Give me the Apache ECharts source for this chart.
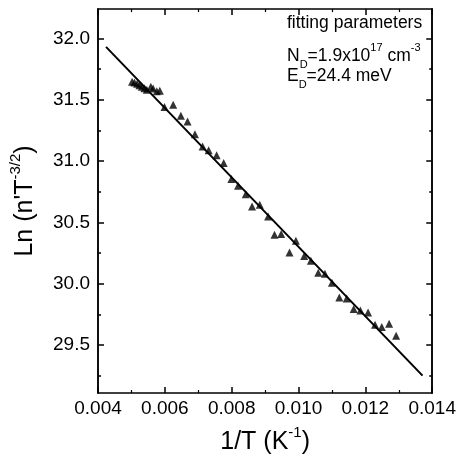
<!DOCTYPE html>
<html>
<head>
<meta charset="utf-8">
<script src="https://cdn.jsdelivr.net/npm/echarts@6/dist/echarts.min.js"></script>
<style>html,body{margin:0;padding:0;background:#fff;}#c{width:459px;height:464px;}</style>
</head>
<body>
<div id="c"></div>
<script>
// Measured data: x = 1/T (K^-1), y = Ln(n'T^-3/2)
const dataX = [0.00502,0.00509,0.00517,0.00524,0.00531,0.00539,0.00546,0.00558,0.00565,0.00576,0.00585,
  0.00599,0.00625,0.00648,0.00668,0.00690,0.00713,0.00731,0.00755,0.00776,0.00799,0.00819,0.00842,
  0.00861,0.00884,0.00909,0.00928,0.00948,0.00973,0.00992,0.01017,0.01037,0.01059,0.01079,0.01100,
  0.01122,0.01144,0.01165,0.01185,0.01208,0.01229,0.01249,0.01271,0.01292];
const dataY = [31.648,31.640,31.631,31.619,31.607,31.595,31.582,31.607,31.591,31.570,31.574,
  31.441,31.460,31.370,31.324,31.219,31.120,31.089,31.048,30.985,30.854,30.799,30.730,
  30.630,30.644,30.549,30.400,30.405,30.255,30.351,30.226,30.188,30.090,30.082,30.008,
  29.888,29.880,29.794,29.782,29.766,29.666,29.647,29.674,29.576];
// Fitted line endpoints
const fitX = [0.00424, 0.01371];
const fitY = [31.931, 29.252];
// Axis ticks
const yMajor = [29.5, 30.0, 30.5, 31.0, 31.5, 32.0];
const yMinor = [29.25, 29.75, 30.25, 30.75, 31.25, 31.75];
const xMin = 0.004, xMax = 0.014, xStep = 0.002;
const yMin = 29.11, yMax = 32.24;

const FONT = '"Liberation Sans", Arial, Helvetica, sans-serif';
const chart = echarts.init(document.getElementById('c'), null, {renderer: 'canvas'});
const lineStyle = {color: '#000', width: 1.5};
const grid = {left: 95, top: 9, width: 338, height: 384};

function xAxisDef(pos, labels) {
  return {
    type: 'value', position: pos, min: xMin, max: xMax, interval: xStep,
    axisLine: {show: true, onZero: false, lineStyle},
    axisTick: {show: true, inside: true, length: 6, lineStyle},
    minorTick: {show: true, splitNumber: 2, length: 3, lineStyle: {color: '#000', width: 1.2}},
    splitLine: {show: false}, minorSplitLine: {show: false},
    axisLabel: {show: labels, margin: 6, color: '#000', fontSize: 19, fontFamily: FONT,
      formatter: v => v.toFixed(3)},
    name: labels ? '1/T (K{sup|-1})' : '',
    nameLocation: 'middle', nameGap: 32,
    nameTextStyle: {color: '#000', fontSize: 25, fontFamily: FONT,
      rich: {sup: {fontSize: 15, fontFamily: FONT, color: '#000', verticalAlign: 'top', lineHeight: 34}}}
  };
}
function yAxisDef(pos, values, len, labels) {
  return {
    type: 'value', position: pos, min: yMin, max: yMax, offset: 0,
    axisLine: {show: true, onZero: false, lineStyle},
    axisTick: {show: true, inside: true, length: len, customValues: values, lineStyle},
    splitLine: {show: false},
    axisLabel: {show: labels, customValues: values, margin: 8, color: '#000', fontSize: 19, fontFamily: FONT,
      formatter: v => v.toFixed(1)},
    name: labels ? "Ln (n'T{sup|-3/2})" : '',
    nameLocation: 'middle', nameGap: 56, nameRotate: 90,
    nameTextStyle: {color: '#000', fontSize: 25, fontFamily: FONT,
      rich: {sup: {fontSize: 15, fontFamily: FONT, color: '#000', verticalAlign: 'top', lineHeight: 34}}}
  };
}

const pts = dataX.map((x, i) => [x, dataY[i]]);
const fit = fitX.map((x, i) => [x, fitY[i]]);

chart.setOption({
  animation: false,
  backgroundColor: '#fff',
  grid: grid,
  xAxis: [xAxisDef('bottom', true), xAxisDef('top', false)],
  yAxis: [yAxisDef('left', yMajor, 6, true), yAxisDef('left', yMinor, 3, false),
          yAxisDef('right', yMajor, 6, false), yAxisDef('right', yMinor, 3, false)],
  series: [
    {type: 'line', data: fit, xAxisIndex: 0, yAxisIndex: 0, showSymbol: false, symbol: 'none',
     lineStyle: {color: '#000', width: 2}, z: 3},
    {type: 'scatter', data: pts, xAxisIndex: 0, yAxisIndex: 0, symbol: 'triangle', symbolSize: 8,
     itemStyle: {color: '#000'}, z: 4}
  ],
  graphic: [
    {type: 'text', left: 287, top: 14, style: {text: 'fitting parameters', font: '17.5px ' + FONT, fill: '#000'}},
    {type: 'text', left: 287, top: 42, style: {
      text: 'N{sub|D}=1.9x10{sup|17} cm{sup|-3}', font: '17.5px ' + FONT, fill: '#000',
      rich: {sub: {fontSize: 11, fontFamily: FONT, verticalAlign: 'bottom', lineHeight: 28},
             sup: {fontSize: 11, fontFamily: FONT, verticalAlign: 'top', lineHeight: 28}}}},
    {type: 'text', left: 287, top: 67, style: {
      text: 'E{sub|D}=24.4 meV', font: '17.5px ' + FONT, fill: '#000',
      rich: {sub: {fontSize: 11, fontFamily: FONT, verticalAlign: 'bottom', lineHeight: 28}}}}
  ]
});
</script>
</body>
</html>
